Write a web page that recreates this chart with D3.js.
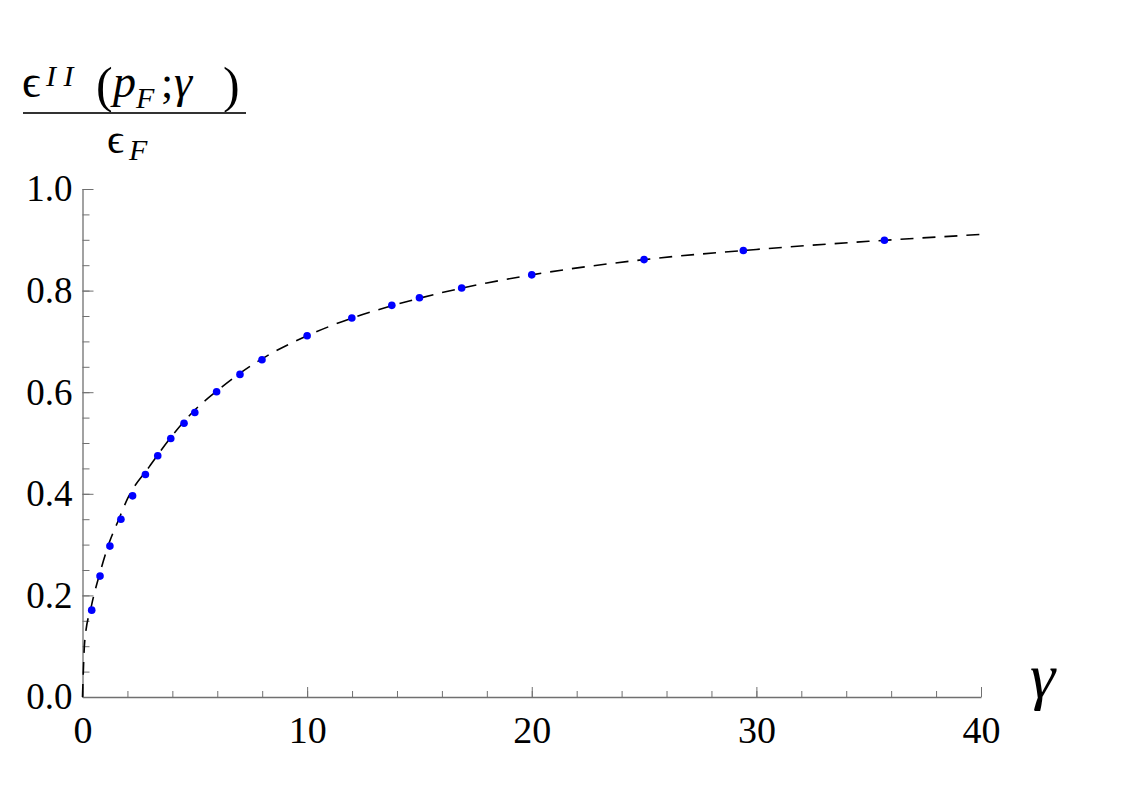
<!DOCTYPE html>
<html>
<head>
<meta charset="utf-8">
<script src="https://cdn.jsdelivr.net/npm/d3@7"></script>
</head>
<body style="margin:0">
<div id="chart"></div>
<script>
// Blue points (gamma, epsilon ratio)
const pointGamma = [0.41, 0.78, 1.22, 1.71, 2.23, 2.8, 3.35, 3.93, 4.52, 5.0, 5.97, 7.01, 7.99, 10.0, 11.99, 13.77, 15.0, 16.88, 20.0, 25.0, 29.42, 35.7];
const pointValue = [0.171, 0.238, 0.297, 0.35, 0.396, 0.438, 0.475, 0.509, 0.539, 0.56, 0.601, 0.635, 0.664, 0.711, 0.746, 0.771, 0.786, 0.805, 0.831, 0.861, 0.879, 0.899];

// Dashed curve samples
const curveGamma = [0, 0.1, 0.4, 0.8, 1.2, 1.6, 2, 3, 4, 5, 6, 7, 8, 10, 12, 14, 16, 18, 20, 25, 30, 35, 40.2];
const curveValue = [0, 0.11, 0.18, 0.248, 0.305, 0.348, 0.39, 0.455, 0.515, 0.565, 0.603, 0.637, 0.666, 0.711, 0.746, 0.773, 0.796, 0.815, 0.831, 0.861, 0.881, 0.897, 0.911];

const xMajor = [0, 10, 20, 30, 40];
const xMinor = d3.range(0, 40.01, 2);
const yMajor = [0, 0.2, 0.4, 0.6, 0.8, 1.0];
const yMinor = d3.range(0, 1.001, 0.05);

const width = 1123;
const height = 794;
const serif = "Liberation Serif";

const svg = d3.select("#chart")
  .append("svg")
  .attr("width", width)
  .attr("height", height);

svg.append("rect").attr("width", width).attr("height", height).attr("fill", "#fff");

const x = d3.scaleLinear().domain([0, 40]).range([82.5, 981]);
const y = d3.scaleLinear().domain([0, 1]).range([697, 189]);

const axisColor = "#707070";

// minor ticks
svg.append("g")
  .attr("transform", `translate(0,${y(0)})`)
  .call(d3.axisBottom(x).tickValues(xMinor).tickSize(-6).tickSizeOuter(0).tickFormat(""))
  .call(g => g.select(".domain").remove())
  .call(g => g.selectAll("text").remove())
  .call(g => g.selectAll("line").attr("stroke", axisColor));

svg.append("g")
  .attr("transform", `translate(${x(0)},0)`)
  .call(d3.axisLeft(y).tickValues(yMinor).tickSize(-7).tickSizeOuter(0).tickFormat(""))
  .call(g => g.select(".domain").remove())
  .call(g => g.selectAll("text").remove())
  .call(g => g.selectAll("line").attr("stroke", axisColor));

// major ticks with labels
svg.append("g")
  .attr("transform", `translate(0,${y(0)})`)
  .call(d3.axisBottom(x).tickValues(xMajor).tickSize(-10).tickSizeOuter(0).tickPadding(19).tickFormat(d3.format("d")))
  .attr("font-family", serif)
  .attr("font-size", 38)
  .call(g => g.select(".domain").attr("stroke", axisColor).attr("stroke-width", 1.3))
  .call(g => g.selectAll("line").attr("stroke", axisColor))
  .call(g => g.selectAll("text").attr("fill", "#000").attr("font-family", serif).attr("font-size", 38));

svg.append("g")
  .attr("transform", `translate(${x(0)},0)`)
  .call(d3.axisLeft(y).tickValues(yMajor).tickSize(-11).tickSizeOuter(0).tickPadding(10).tickFormat(d3.format(".1f")))
  .attr("font-family", serif)
  .attr("font-size", 37)
  .call(g => g.select(".domain").attr("stroke", axisColor).attr("stroke-width", 1.3))
  .call(g => g.selectAll("line").attr("stroke", axisColor))
  .call(g => g.selectAll("text").attr("fill", "#000").attr("font-family", serif).attr("font-size", 37));

// dashed curve
const line = d3.line()
  .x((d, i) => x(curveGamma[i]))
  .y(d => y(d))
  .curve(d3.curveMonotoneX);

svg.append("path")
  .datum(curveValue)
  .attr("fill", "none")
  .attr("stroke", "#000")
  .attr("stroke-width", 1.6)
  .attr("stroke-dasharray", "13,9")
  .attr("d", line);

// blue points
svg.append("g")
  .selectAll("circle")
  .data(pointValue)
  .join("circle")
  .attr("cx", (d, i) => x(pointGamma[i]))
  .attr("cy", d => y(d))
  .attr("r", 3.8)
  .attr("fill", "#0000ff");

// x axis label
svg.append("text")
  .attr("x", 1030)
  .attr("y", 697)
  .attr("font-family", serif)
  .attr("font-style", "italic")
  .attr("font-size", 64)
  .text("γ");

// y axis label as a fraction, one text per glyph group
function piece(str, px, py, size, italic) {
  svg.append("text")
    .attr("x", px).attr("y", py)
    .attr("font-family", serif)
    .attr("font-size", size)
    .attr("font-style", italic ? "italic" : "normal")
    .text(str);
}
piece("ϵ", 22, 97, 46, false);
piece("I I", 46, 86, 30, true);
piece("(", 96, 102, 50, false);
piece("p", 113, 97, 46, true);
piece("F", 136, 108, 30, true);
piece(";", 161, 97, 44, false);
piece("γ", 174, 97, 46, true);
piece(")", 223, 102, 50, false);

svg.append("line")
  .attr("x1", 23).attr("x2", 246)
  .attr("y1", 113).attr("y2", 113)
  .attr("stroke", "#333").attr("stroke-width", 2.2);

piece("ϵ", 107, 153, 42, false);
piece("F", 129, 160, 30, true);
</script>
</body>
</html>
